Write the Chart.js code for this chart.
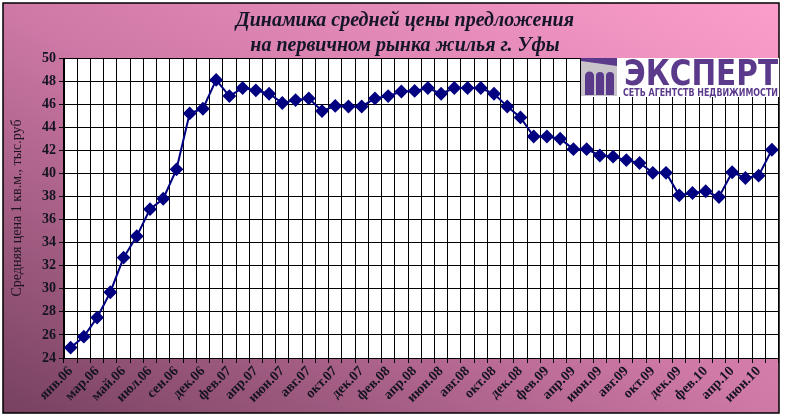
<!DOCTYPE html>
<html>
<head>
<meta charset="utf-8">
<script src="https://cdn.jsdelivr.net/npm/chart.js@4"></script>
<style>
  html, body { margin: 0; padding: 0; background: #fff; }
  #wrap { width: 786px; height: 419px; }
</style>
</head>
<body>
<div id="wrap"><canvas id="priceChart" width="786" height="419"></canvas></div>
<script>
"use strict";

const months = [
  "янв.06", "фев.06", "мар.06", "апр.06", "май.06", "июн.06", "июл.06", "авг.06", "сен.06", "окт.06",
  "дек.06", "янв.07", "фев.07", "мар.07", "апр.07", "май.07", "июн.07", "июл.07", "авг.07", "сен.07",
  "окт.07", "ноя.07", "дек.07", "янв.08", "фев.08", "мар.08", "апр.08", "май.08", "июн.08", "июл.08",
  "авг.08", "сен.08", "окт.08", "ноя.08", "дек.08", "янв.09", "фев.09", "мар.09", "апр.09", "май.09",
  "июн.09", "июл.09", "авг.09", "сен.09", "окт.09", "ноя.09", "дек.09", "янв.10", "фев.10", "мар.10",
  "апр.10", "май.10", "июн.10", "июл.10"
];

// thousand rub per sq.m
const prices = [
  24.9, 25.85, 27.5, 29.7, 32.7, 34.55, 36.9, 37.8, 40.35, 45.2,
  45.6, 48.1, 46.7, 47.4, 47.2, 46.9, 46.1, 46.35, 46.5, 45.4,
  45.85, 45.8, 45.8, 46.5, 46.7, 47.1, 47.15, 47.4, 46.9, 47.4,
  47.4, 47.4, 46.9, 45.8, 44.85, 43.2, 43.2, 43.0, 42.1, 42.1,
  41.55, 41.45, 41.15, 40.9, 40.05, 40.05, 38.1, 38.3, 38.45, 37.95,
  40.1, 39.6, 39.8, 42.05
];

const titleLines = ["Динамика средней цены предложения", "на первичном рынка жилья г. Уфы"];
const yAxisTitle = "Средняя цена 1 кв.м., тыс.руб";
const logoName = "ЭКСПЕРТ";
const logoTagline = "СЕТЬ АГЕНТСТВ НЕДВИЖИМОСТИ";

const serif = "'Liberation Serif', 'Times New Roman', serif";
const purple = "#5b3a8c";

// pink frame, plot background, title and logo
const decorations = {
  id: "decorations",
  beforeDraw(chart) {
    const c = chart.ctx;
    const a = chart.chartArea;
    c.save();
    c.fillStyle = "#fff";
    c.fillRect(0, 0, chart.width, chart.height);
    let g = c.createLinearGradient(222, 528, 560, -112);
    g.addColorStop(0, "#774160");
    g.addColorStop(0.5, "#cf79a7");
    g.addColorStop(1, "#fc9ecc");
    c.fillStyle = g;
    c.fillRect(3, 3, 776, 410);
    c.strokeStyle = "#000";
    c.lineWidth = 1.5;
    c.strokeRect(3, 3, 776, 410);
    c.fillStyle = "#fff";
    c.fillRect(a.left, a.top, a.right - a.left, a.bottom - a.top);
    c.restore();
  },
  afterDraw(chart) {
    const c = chart.ctx;
    c.save();
    // title
    c.fillStyle = "#15152a";
    c.textAlign = "center";
    c.textBaseline = "middle";
    c.font = "italic bold 20px " + serif;
    c.fillText(titleLines[0], 405, 21);
    c.fillText(titleLines[1], 405, 46);

    // logo
    c.fillStyle = "#fff";
    c.fillRect(581, 58, 198, 39);
    c.fillStyle = "#c8c4ca";
    c.fillRect(581, 58, 36, 38);
    c.fillStyle = purple;
    c.beginPath();
    c.moveTo(581, 58);
    c.lineTo(617, 58);
    c.lineTo(617, 66);
    c.lineTo(581, 61);
    c.closePath();
    c.fill();
    [[585, 9], [596, 8], [606, 8]].forEach(([x, w]) => {
      c.beginPath();
      c.moveTo(x, 95);
      c.lineTo(x, 76);
      c.arc(x + w / 2, 76, w / 2, Math.PI, 0);
      c.lineTo(x + w, 95);
      c.closePath();
      c.fill();
    });
    c.textAlign = "left";
    c.textBaseline = "alphabetic";
    c.font = "bold 36px 'DejaVu Sans', sans-serif";
    let w = c.measureText(logoName).width;
    c.save();
    c.translate(624, 85);
    c.scale(154 / w, 1);
    c.fillText(logoName, 0, 0);
    c.restore();
    c.font = "bold 10px 'DejaVu Sans', sans-serif";
    w = c.measureText(logoTagline).width;
    c.save();
    c.translate(623, 95.5);
    c.scale(155 / w, 1);
    c.fillText(logoTagline, 0, 0);
    c.restore();
    c.restore();
  }
};

new Chart(document.getElementById("priceChart"), {
  type: "line",
  data: {
    labels: months,
    datasets: [
      {
        data: prices,
        borderColor: "#000080",
        backgroundColor: "#000080",
        borderWidth: 2,
        pointStyle: "rectRot",
        pointRadius: 5.5,
        pointHoverRadius: 5.5,
        tension: 0,
      },
    ],
  },
  options: {
    responsive: false,
    animation: false,
    layout: { padding: { top: 58, right: 7, left: 0, bottom: 0 } },
    plugins: {
      legend: { display: false },
      tooltip: { enabled: false },
    },
    scales: {
      x: {
        offset: true,
        grid: { offset: true, color: "#000", lineWidth: 1, tickLength: 5, tickColor: "#000" },
        border: { color: "#000", width: 1 },
        ticks: {
          autoSkip: false,
          minRotation: 45,
          maxRotation: 45,
          padding: 0,
          color: "#141420",
          font: { family: serif, size: 14, weight: "bold" },
          callback: function (value, index) {
            return index % 2 === 0 ? this.getLabelForValue(value) : "";
          },
        },
        afterFit(scale) {
          scale.height = 61;
        },
      },
      y: {
        min: 24,
        max: 50,
        grid: { color: "#000", lineWidth: 1, tickLength: 5, tickColor: "#000" },
        border: { color: "#000", width: 1 },
        ticks: {
          stepSize: 2,
          padding: 3,
          color: "#141420",
          font: { family: serif, size: 14, weight: "bold" },
        },
        title: {
          display: true,
          text: yAxisTitle,
          color: "#1e1420",
          font: { family: serif, size: 14 },
          padding: { top: 9, bottom: 0 },
        },
        afterFit(scale) {
          scale.width = 64;
        },
      },
    },
  },
  plugins: [decorations],
});
</script>
</body>
</html>
